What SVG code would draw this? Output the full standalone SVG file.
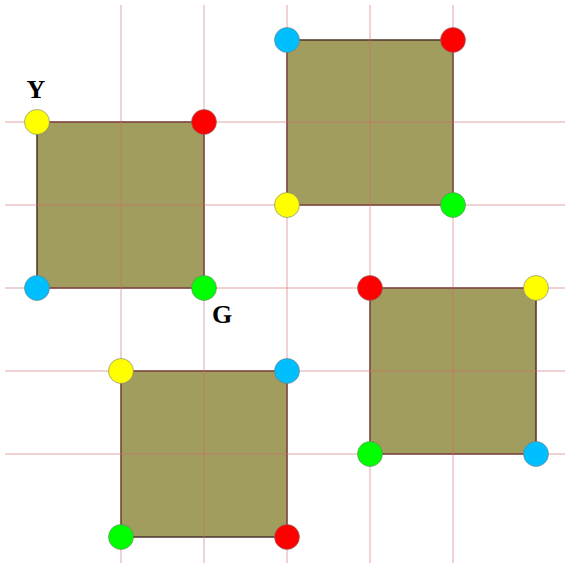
<svg xmlns="http://www.w3.org/2000/svg" width="565" height="563" viewBox="0 0 565 563">
<style>
.sq{fill:#a09d5f;stroke:#4e3328;stroke-width:1.5}
.g{stroke:#d46a6a;stroke-opacity:0.6;stroke-width:1}
.c{stroke:#777;stroke-width:0.6}
.y{fill:#ffff00}.r{fill:#ff0000}.b{fill:#00bfff}.gr{fill:#00ff00}
.lab{font-family:"Liberation Serif","DejaVu Serif",serif;font-weight:bold;font-size:26px;text-anchor:middle}
</style>
<rect width="565" height="563" fill="#fff"/>
<g id="sq1"><rect class="sq" x="37" y="122" width="167" height="166"/></g>
<g id="sq2"><rect class="sq" x="287" y="40" width="166" height="165"/></g>
<g id="sq3"><rect class="sq" x="370" y="288" width="166" height="166"/></g>
<g id="sq4"><rect class="sq" x="121" y="371" width="166" height="166"/></g>
<g id="grid">
<line class="g" x1="121" y1="5" x2="121" y2="563"/>
<line class="g" x1="204" y1="5" x2="204" y2="563"/>
<line class="g" x1="287" y1="5" x2="287" y2="563"/>
<line class="g" x1="370" y1="5" x2="370" y2="563"/>
<line class="g" x1="453" y1="5" x2="453" y2="563"/>
<line class="g" x1="5" y1="122" x2="565" y2="122"/>
<line class="g" x1="5" y1="205" x2="565" y2="205"/>
<line class="g" x1="5" y1="288" x2="565" y2="288"/>
<line class="g" x1="5" y1="371" x2="565" y2="371"/>
<line class="g" x1="5" y1="454" x2="565" y2="454"/>
</g>
<g id="dots">
<circle class="c y" cx="37" cy="122" r="12.5"/>
<circle class="c r" cx="204" cy="122" r="12.5"/>
<circle class="c b" cx="37" cy="288" r="12.5"/>
<circle class="c gr" cx="204" cy="288" r="12.5"/>
<circle class="c b" cx="287" cy="40" r="12.5"/>
<circle class="c r" cx="453" cy="40" r="12.5"/>
<circle class="c y" cx="287" cy="205" r="12.5"/>
<circle class="c gr" cx="453" cy="205" r="12.5"/>
<circle class="c r" cx="370" cy="288" r="12.5"/>
<circle class="c y" cx="536" cy="288" r="12.5"/>
<circle class="c gr" cx="370" cy="454" r="12.5"/>
<circle class="c b" cx="536" cy="454" r="12.5"/>
<circle class="c y" cx="121" cy="371" r="12.5"/>
<circle class="c b" cx="287" cy="371" r="12.5"/>
<circle class="c gr" cx="121" cy="537" r="12.5"/>
<circle class="c r" cx="287" cy="537" r="12.5"/>
</g>
<text class="lab" x="36" y="98">Y</text>
<text class="lab" x="222" y="323">G</text>
</svg>
